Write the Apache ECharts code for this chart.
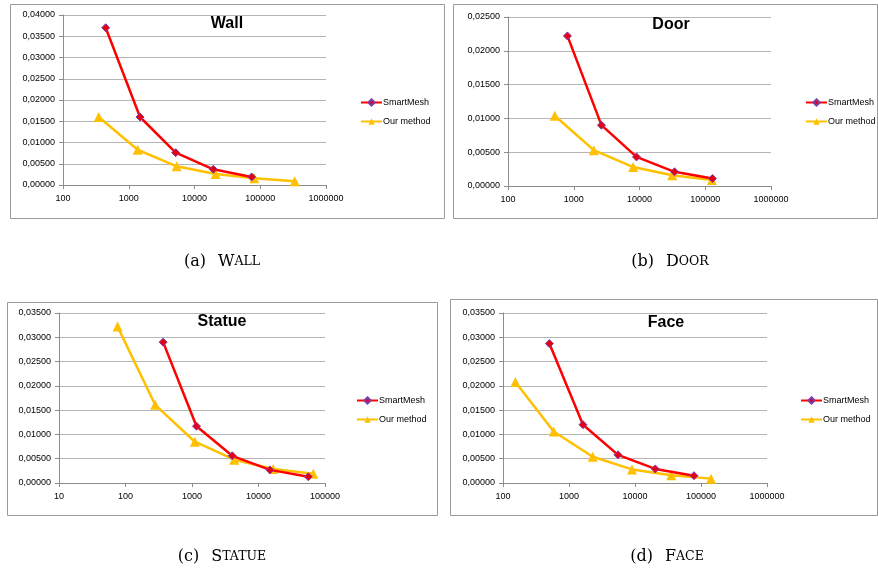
<!DOCTYPE html>
<html>
<head>
<meta charset="utf-8">
<script src="https://cdn.jsdelivr.net/npm/echarts@6/dist/echarts.min.js"></script>
<style>
  html, body { margin: 0; padding: 0; background: #fff; }
  #main { width: 878px; height: 571px; }
</style>
</head>
<body>
<div id="main"></div>
<script>
// vertex counts (x) and error (y)
const wallSmartX = [446, 1483, 5176, 19320, 74100]
const wallSmartY = [0.0370, 0.0160, 0.0076, 0.0037, 0.0019]
const wallOursX = [349, 1368, 5360, 21000, 81300, 334000]
const wallOursY = [0.0160, 0.0083, 0.0044, 0.0026, 0.0016, 0.0009]

const doorSmartX = [801, 2638, 9000, 34100, 129000]
const doorSmartY = [0.0222, 0.0090, 0.0043, 0.0021, 0.0011]
const doorOursX = [514, 2017, 8010, 31400, 126000]
const doorOursY = [0.0104, 0.0053, 0.0028, 0.0016, 0.0009]

const statueSmartX = [368, 1169, 4027, 14860, 56100]
const statueSmartY = [0.0290, 0.0117, 0.0056, 0.0027, 0.0013]
const statueOursX = [76, 279, 1104, 4315, 16670, 66700]
const statueOursY = [0.0322, 0.0161, 0.0085, 0.0048, 0.0029, 0.0019]

const faceSmartX = [504, 1630, 5525, 20300, 78300]
const faceSmartY = [0.0287, 0.0120, 0.0058, 0.0029, 0.0015]
const faceOursX = [154, 586, 2285, 9010, 35500, 141800]
const faceOursY = [0.0208, 0.0106, 0.0054, 0.0028, 0.0016, 0.0009]

const seriesNames = ['SmartMesh', 'Our method']
const panelTitles = ['Wall', 'Door', 'Statue', 'Face']
const captionLabels = ['(a)', '(b)', '(c)', '(d)']
const yMaxes = [0.04, 0.025, 0.035, 0.035]
const xMins = [100, 100, 10, 100]
const xMaxes = [1000000, 1000000, 100000, 1000000]

const panels = [
  { smart: [wallSmartX, wallSmartY], ours: [wallOursX, wallOursY],
    grid: { left: 63, top: 15, width: 263, height: 170 },
    box: [10, 4, 434, 214], titleAt: [227, 24], legendAt: [360, 98], captionAt: [222, 262] },
  { smart: [doorSmartX, doorSmartY], ours: [doorOursX, doorOursY],
    grid: { left: 508, top: 17, width: 263, height: 169 },
    box: [453, 4, 424, 214], titleAt: [671, 25], legendAt: [805, 98], captionAt: [670, 262] },
  { smart: [statueSmartX, statueSmartY], ours: [statueOursX, statueOursY],
    grid: { left: 59, top: 313, width: 266, height: 170 },
    box: [7, 302, 430, 213], titleAt: [222, 322], legendAt: [356, 396], captionAt: [222, 557] },
  { smart: [faceSmartX, faceSmartY], ours: [faceOursX, faceOursY],
    grid: { left: 503, top: 313, width: 264, height: 170 },
    box: [450, 299, 427, 216], titleAt: [666, 323], legendAt: [800, 396], captionAt: [667, 557] }
]

const labelFont = 'Liberation Sans'
const axisGray = '#8c8c8c'

function zip(xs, ys) {
  return xs.map((x, i) => [x, ys[i]])
}

const chart = echarts.init(document.getElementById('main'))

const grid = []
const xAxis = []
const yAxis = []
const series = []
const legend = []
const graphic = []

panels.forEach((p, i) => {
  grid.push(p.grid)
  xAxis.push({
    type: 'log',
    logBase: 10,
    gridIndex: i,
    min: xMins[i],
    max: xMaxes[i],
    splitNumber: Math.round(Math.log10(xMaxes[i] / xMins[i])),
    axisLine: { lineStyle: { color: axisGray } },
    axisTick: { length: 4, lineStyle: { color: axisGray } },
    splitLine: { show: false },
    minorTick: { show: false },
    axisLabel: {
      fontSize: 9, fontFamily: labelFont, color: '#000', margin: 9,
      formatter: v => String(Math.round(v))
    }
  })
  yAxis.push({
    type: 'value',
    gridIndex: i,
    min: 0,
    max: yMaxes[i],
    interval: 0.005,
    axisLine: { show: true, lineStyle: { color: axisGray } },
    axisTick: { show: true, length: 4, lineStyle: { color: axisGray } },
    splitLine: { lineStyle: { color: '#b5b5b5' } },
    axisLabel: {
      fontSize: 9, fontFamily: labelFont, color: '#000', margin: 8,
      formatter: v => v.toFixed(5).replace('.', ',')
    }
  })
  series.push({
    name: seriesNames[0],
    type: 'line',
    xAxisIndex: i,
    yAxisIndex: i,
    data: zip(p.smart[0], p.smart[1]),
    symbol: 'diamond',
    symbolSize: 8,
    lineStyle: { color: '#ff0000', width: 2.5 },
    itemStyle: { color: '#e60012', borderColor: '#7b3fa8', borderWidth: 1 },
    z: 3
  })
  series.push({
    name: seriesNames[1],
    type: 'line',
    xAxisIndex: i,
    yAxisIndex: i,
    data: zip(p.ours[0], p.ours[1]),
    symbol: 'triangle',
    symbolSize: 10,
    lineStyle: { color: '#ffc000', width: 2.5 },
    itemStyle: { color: '#ffc000' },
    z: 2
  })
  legend.push({
    data: seriesNames,
    orient: 'vertical',
    left: p.legendAt[0],
    top: p.legendAt[1],
    padding: 0,
    itemWidth: 21,
    itemHeight: 8,
    itemGap: 10,
    textStyle: { fontSize: 9, fontFamily: labelFont, color: '#000', padding: [0, 0, 0, -4] }
  })
  // outer frame of each Excel chart
  graphic.push({
    type: 'rect',
    shape: { x: p.box[0] + 0.5, y: p.box[1] + 0.5, width: p.box[2], height: p.box[3] },
    style: { fill: null, stroke: '#9a9a9a', lineWidth: 1 },
    silent: true
  })
  graphic.push({
    type: 'text',
    x: p.titleAt[0],
    y: p.titleAt[1],
    style: {
      text: panelTitles[i],
      fontSize: 16, fontWeight: 'bold', fontFamily: labelFont,
      fill: '#000', align: 'center', verticalAlign: 'middle'
    },
    z: 10
  })
  // subfigure caption in small caps
  const word = panelTitles[i]
  graphic.push({
    type: 'text',
    x: p.captionAt[0],
    y: p.captionAt[1],
    style: {
      text: '{n|' + captionLabels[i] + '}{g| }{n|' + word[0] + '}{s|' + word.slice(1).toUpperCase() + '}',
      align: 'center', verticalAlign: 'middle',
      rich: {
        n: { fontSize: 16, fontFamily: 'DejaVu Serif', fill: '#000' },
        g: { fontSize: 16, width: 12 },
        s: { fontSize: 12.5, fontFamily: 'DejaVu Serif', fill: '#000' }
      }
    }
  })
})

const option = {
  animation: false,
  backgroundColor: '#fff',
  grid: grid,
  xAxis: xAxis,
  yAxis: yAxis,
  legend: legend,
  series: series,
  graphic: graphic
}
option && chart.setOption(option)
</script>
</body>
</html>
